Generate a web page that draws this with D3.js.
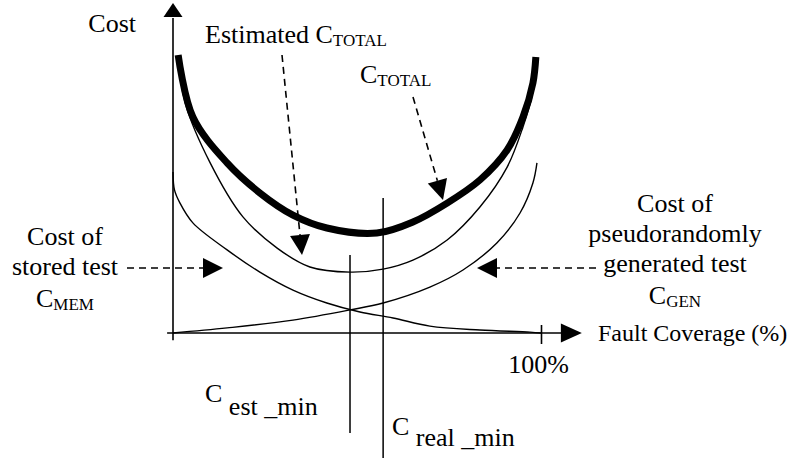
<!DOCTYPE html>
<html>
<head>
<meta charset="utf-8">
<script src="https://cdn.jsdelivr.net/npm/d3@7"></script>
<style>
  body { margin: 0; background: #fff; }
  text { font-family: "Liberation Serif", "Times New Roman", serif; fill: #000; }
</style>
</head>
<body>
<div id="container"></div>
<script>
// values: x = fault coverage (%), y = cost (arbitrary units)
const totalCoverage = [1.4, 5.4, 14.7, 23.6, 32.6, 41.8, 55.4, 65.2, 74.5, 83.4, 90.8, 95.1, 97.8, 98.6];
const totalCost     = [92.7, 72, 56.7, 46.7, 39.3, 35, 33.3, 37, 43.3, 51, 61, 72, 83.3, 92];

const estCoverage = [1.4, 3.3, 10.1, 19, 28.3, 37.2, 48.1, 57.1, 65.2, 74.5, 83.4, 90.8, 95.1, 97.6, 98.4];
const estCost     = [92, 76.7, 56.7, 38.7, 28.3, 22, 20.3, 21.3, 24.3, 31, 42, 55.3, 68.7, 79.3, 90.3];

const memCoverage = [0, 0.4, 1.9, 5.4, 14.7, 23.6, 32.6, 41.8, 50.8, 59.8, 69.8, 83.4, 97, 100];
const memCost     = [53.7, 47.7, 43.3, 36.7, 27.7, 20.3, 14.3, 10, 7, 5, 2.3, 1, 0.3, 0];

const genCoverage = [0, 14.7, 32.6, 48.1, 57.1, 69.8, 78.8, 88, 94.3, 97.8, 98.9];
const genCost     = [0, 1.7, 4.3, 7.7, 10, 15.3, 21, 30, 40, 50, 56.7];

// minimum markers: coverage and the cost span of each vertical line
const minNames    = ["est", "real"];
const minCoverage = [48.1, 57.1];
const minTop      = [26, 45];
const minBottom   = [-33.3, -42];

const xTickValues = [100];
const xTickLabels = ["100%"];

const main = (container) => {
  const W = 789, H = 458;

  const svg = d3.select(container)
    .append("svg")
    .attr("width", W)
    .attr("height", H);

  // Échelles
  const x = d3.scaleLinear().domain([0, 100]).range([173, 541]);
  const y = d3.scaleLinear().domain([0, 110]).range([333, 3]);

  const line = d3.line()
    .x(d => x(d[0]))
    .y(d => y(d[1]))
    .curve(d3.curveCatmullRom.alpha(0.5));

  // Axes (lignes + flèches)
  svg.append("line")
    .attr("x1", x(-1.6)).attr("x2", x(105.8))
    .attr("y1", y(0)).attr("y2", y(0))
    .attr("stroke", "#000").attr("stroke-width", 1.6);

  svg.append("path")
    .attr("d", `M${x(105.4)},${y(0) - 9.5} L${x(111.1)},${y(0)} L${x(105.4)},${y(0) + 9.5} Z`)
    .attr("fill", "#000");

  svg.append("line")
    .attr("x1", x(0)).attr("x2", x(0))
    .attr("y1", y(-2.4)).attr("y2", y(105))
    .attr("stroke", "#000").attr("stroke-width", 1.6);

  svg.append("path")
    .attr("d", `M${x(0) - 9.5},${y(105.3)} L${x(0)},${y(110)} L${x(0) + 9.5},${y(105.3)} Z`)
    .attr("fill", "#000");

  // tick 100%
  const xAxis = svg.append("g")
    .attr("transform", `translate(0,${y(0)})`)
    .call(d3.axisBottom(x)
      .tickValues(xTickValues)
      .tickFormat((d, i) => xTickLabels[i])
      .tickSize(11));
  xAxis.select(".domain").remove();
  xAxis.selectAll(".tick line")
    .attr("y1", -8)
    .attr("stroke", "#000")
    .attr("stroke-width", 1.6);
  xAxis.selectAll(".tick text")
    .attr("y", 40)
    .attr("dy", null)
    .attr("dx", -3)
    .style("font-family", "'Liberation Serif', 'Times New Roman', serif")
    .style("font-size", "26px")
    .attr("fill", "#000");

  // Lignes verticales des minima
  svg.selectAll(".min-line")
    .data(minNames)
    .enter()
    .append("line")
    .attr("class", "min-line")
    .attr("x1", (d, i) => x(minCoverage[i]))
    .attr("x2", (d, i) => x(minCoverage[i]))
    .attr("y1", (d, i) => y(minTop[i]))
    .attr("y2", (d, i) => y(minBottom[i]))
    .attr("stroke", "#000")
    .attr("stroke-width", 1.5);

  // Courbes
  const curves = [
    { pts: d3.zip(memCoverage, memCost), w: 1.4 },
    { pts: d3.zip(genCoverage, genCost), w: 1.4 },
    { pts: d3.zip(estCoverage, estCost), w: 1.4 },
    { pts: d3.zip(totalCoverage, totalCost), w: 7 }
  ];

  svg.selectAll(".curve")
    .data(curves)
    .enter()
    .append("path")
    .attr("class", "curve")
    .attr("d", d => line(d.pts))
    .attr("fill", "none")
    .attr("stroke", "#000")
    .attr("stroke-width", d => d.w)
    .attr("stroke-linecap", "butt");

  // Flèches en pointillés
  const dashedArrow = (x1, y1, x2, y2) => {
    const dx = x2 - x1, dy = y2 - y1;
    const len = Math.hypot(dx, dy);
    const ux = dx / len, uy = dy / len;
    const head = 20, half = 10;
    const bx = x2 - ux * head, by = y2 - uy * head;
    svg.append("line")
      .attr("x1", x1).attr("y1", y1)
      .attr("x2", bx).attr("y2", by)
      .attr("stroke", "#000")
      .attr("stroke-width", 1.6)
      .attr("stroke-dasharray", "7,5");
    svg.append("path")
      .attr("d", `M${x2},${y2} L${bx - uy * half},${by + ux * half} L${bx + uy * half},${by - ux * half} Z`)
      .attr("fill", "#000");
  };

  dashedArrow(282, 55, 302, 255);
  dashedArrow(413, 97, 443, 200);
  dashedArrow(127, 268, 223, 268);
  dashedArrow(596, 268, 477, 268);

  // Textes
  const font = 26, sub = 17;

  const label = (tx, ty, main, subTxt, anchor, subDy) => {
    const t = svg.append("text")
      .attr("x", tx).attr("y", ty)
      .attr("text-anchor", anchor || "start")
      .style("font-size", font + "px");
    t.append("tspan").text(main);
    if (subTxt) {
      t.append("tspan")
        .attr("dy", subDy == null ? 3 : subDy)
        .style("font-size", sub + "px")
        .text(subTxt);
    }
    return t;
  };

  label(136, 32, "Cost", null, "end");
  label(205, 43, "Estimated C", "TOTAL");
  label(360, 83, "C", "TOTAL");

  label(65, 245, "Cost of", null, "middle");
  label(65, 275, "stored test", null, "middle");
  label(65, 307, "C", "MEM", "middle");

  label(675, 212, "Cost of", null, "middle");
  label(675, 242, "pseudorandomly", null, "middle");
  label(675, 272, "generated test", null, "middle");
  label(675, 304, "C", "GEN", "middle");

  svg.append("text")
    .attr("x", 598).attr("y", 341)
    .style("font-size", "24px")
    .text("Fault Coverage (%)");

  // C est _min / C real _min
  const minLabel = (tx, ty, subTxt, shift) => {
    const t = svg.append("text")
      .attr("x", tx).attr("y", ty)
      .style("font-size", font + "px");
    t.append("tspan").text("C ");
    t.append("tspan").attr("dy", shift).text(subTxt);
  };
  minLabel(205, 402, "est _min", 13);
  minLabel(392, 435, "real _min", 11);
};

const container = document.getElementById("container");
main(container);
</script>
</body>
</html>
